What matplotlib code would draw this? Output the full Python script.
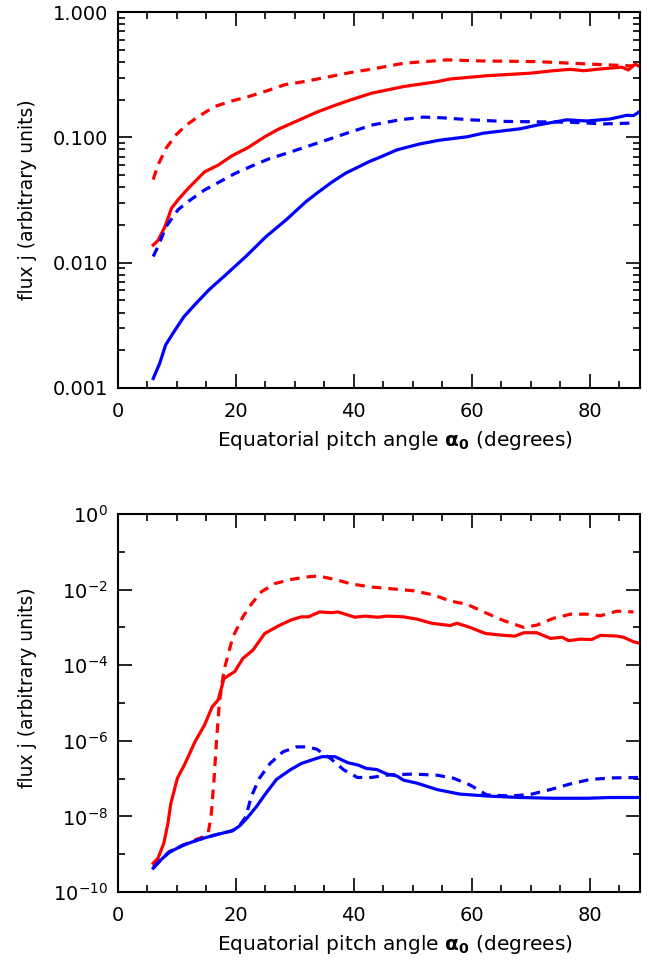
import numpy as np
import matplotlib.pyplot as plt
from matplotlib.ticker import FixedLocator, NullFormatter, FuncFormatter

# ---- top panel: flux (linear values) ----
top_red_dash_x = [6.0, 6.8, 8.2, 9.9, 11.6, 13.6, 16.4, 19.3, 22.1, 24.9, 28.3, 31.7, 35.1, 39.6, 43.0,
                  48.4, 55.8, 61.4, 71.0, 79.5, 87.4]
top_red_dash_y = [0.046, 0.060, 0.082, 0.105, 0.125, 0.146, 0.176, 0.195, 0.211, 0.232, 0.263, 0.279, 0.30,
                  0.33, 0.35, 0.39, 0.415, 0.407, 0.402, 0.385, 0.371]

top_red_x = [6.0, 6.8, 8.0, 9.1, 10.2, 11.9, 14.7, 17.0, 19.3, 22.1, 24.9, 27.2, 31.1, 33.9, 36.8, 39.6,
             43.0, 48.4, 54.1, 56.3, 62.5, 69.9, 73.8, 76.7, 78.9, 82.3, 85.4, 86.5, 87.7, 88.4]
top_red_y = [0.0138, 0.015, 0.0194, 0.0272, 0.0317, 0.039, 0.053, 0.060, 0.071, 0.083, 0.101, 0.116, 0.14,
             0.16, 0.18, 0.20, 0.225, 0.254, 0.278, 0.292, 0.31, 0.325, 0.34, 0.349, 0.34, 0.353, 0.363,
             0.345, 0.385, 0.367]

top_blue_dash_x = [6.0, 6.8, 8.2, 10.2, 11.9, 14.7, 17.0, 19.9, 22.7, 25.5, 29.5, 32.9, 36.2, 39.6, 43.3,
                   47.8, 51.8, 55.2, 59.7, 65.4, 71.0, 76.7, 82.3, 87.4]
top_blue_dash_y = [0.0112, 0.0134, 0.0194, 0.0264, 0.0307, 0.038, 0.0435, 0.0516, 0.059, 0.067, 0.077,
                   0.087, 0.098, 0.111, 0.126, 0.138, 0.145, 0.143, 0.138, 0.134, 0.133, 0.132, 0.128, 0.130]

top_blue_x = [6.0, 7.1, 8.1, 9.5, 11.2, 13.2, 15.5, 18.3, 21.7, 25.1, 28.5, 31.9, 34.1, 36.4, 38.6, 42.6,
              44.3, 47.3, 51.2, 54.6, 59.2, 62.0, 68.2, 71.0, 76.1, 79.5, 83.4, 86.3, 87.4, 88.2]
top_blue_y = [0.00119, 0.00157, 0.0022, 0.0028, 0.0037, 0.0047, 0.0061, 0.0080, 0.0112, 0.0161, 0.0219,
              0.0307, 0.0369, 0.0443, 0.0517, 0.064, 0.069, 0.0794, 0.0886, 0.095, 0.101, 0.108, 0.117,
              0.125, 0.138, 0.135, 0.140, 0.150, 0.149, 0.158]

# ---- bottom panel: log10 of flux ----
bot_red_x = [6.0, 6.8, 7.8, 8.5, 9.0, 10.1, 11.4, 13.1, 14.7, 16.0, 17.0, 18.0, 19.8, 21.2, 22.9, 24.9,
             27.2, 29.4, 31.1, 32.3, 34.2, 36.2, 37.3, 40.2, 41.9, 44.1, 45.6, 48.4, 50.7, 53.2, 56.3,
             57.5, 59.7, 62.3, 65.4, 67.3, 68.8, 71.0, 73.3, 75.3, 76.4, 78.4, 80.3, 81.8, 84.6, 85.7,
             87.4, 88.2]
bot_red_log = [-9.24, -9.11, -8.71, -8.18, -7.65, -6.99, -6.60, -6.02, -5.58, -5.10, -4.92, -4.35, -4.17,
               -3.82, -3.60, -3.16, -2.96, -2.80, -2.72, -2.72, -2.59, -2.61, -2.59, -2.73, -2.70, -2.73,
               -2.70, -2.72, -2.78, -2.89, -2.95, -2.89, -3.00, -3.16, -3.21, -3.23, -3.14, -3.14, -3.29,
               -3.26, -3.35, -3.31, -3.32, -3.21, -3.23, -3.26, -3.38, -3.41]

bot_red_dash_x = [6.0, 7.3, 8.7, 11.1, 13.1, 14.5, 15.3, 15.8, 16.3, 16.7, 17.2, 18.0, 19.5, 21.2, 22.7,
                  24.3, 26.6, 29.4, 32.3, 34.0, 36.8, 39.6, 42.9, 47.3, 50.1, 53.5, 56.3, 59.2, 62.0,
                  65.4, 68.8, 71.0, 73.8, 76.7, 79.5, 81.8, 84.6, 87.4]
bot_red_dash_log = [-9.33, -9.14, -8.93, -8.76, -8.62, -8.54, -8.45, -8.01, -7.04, -6.07, -5.01, -4.13,
                    -3.25, -2.72, -2.37, -2.06, -1.84, -1.73, -1.66, -1.64, -1.73, -1.85, -1.93, -1.99,
                    -2.03, -2.14, -2.30, -2.39, -2.59, -2.82, -3.00, -2.94, -2.76, -2.65, -2.65, -2.69,
                    -2.57, -2.59]

bot_blue_x = [6.0, 7.3, 8.7, 11.1, 13.8, 16.5, 19.4, 20.5, 21.7, 23.5, 24.9, 26.9, 29.2, 31.1, 32.8, 34.6,
              36.8, 39.0, 40.7, 42.1, 43.9, 45.6, 47.3, 48.4, 50.7, 54.1, 58.0, 62.5, 68.2, 73.8, 79.5,
              83.4, 88.2]
bot_blue_log = [-9.37, -9.15, -8.95, -8.76, -8.61, -8.49, -8.38, -8.27, -8.08, -7.74, -7.43, -7.02, -6.77,
                -6.60, -6.51, -6.42, -6.42, -6.58, -6.64, -6.73, -6.76, -6.88, -6.93, -7.04, -7.12, -7.29,
                -7.41, -7.46, -7.50, -7.52, -7.52, -7.50, -7.50]

bot_blue_dash_x = [6.0, 7.3, 8.7, 11.1, 13.8, 16.5, 19.4, 20.5, 21.7, 22.6, 24.0, 25.8, 28.0, 30.3, 32.0,
                   33.7, 36.0, 38.3, 40.6, 42.9, 46.1, 50.1, 54.1, 56.9, 59.7, 62.5, 66.5, 69.9, 73.3,
                   76.7, 80.1, 84.0, 88.2]
bot_blue_dash_log = [-9.37, -9.15, -8.95, -8.76, -8.61, -8.49, -8.38, -8.27, -8.01, -7.48, -6.99, -6.60,
                     -6.29, -6.16, -6.16, -6.22, -6.46, -6.77, -6.97, -6.97, -6.90, -6.88, -6.91, -6.99,
                     -7.17, -7.43, -7.46, -7.42, -7.29, -7.14, -7.02, -6.98, -6.97]

RED = '#ff0000'
BLUE = '#0000ff'
LW = 2.3
DASH = (0, (3, 2.2))

plt.rcParams['font.family'] = ['DejaVu Sans']
plt.rcParams['font.size'] = 14
plt.rcParams['axes.linewidth'] = 1.5

fig = plt.figure(figsize=(6.49, 9.61), dpi=100)
ax1 = fig.add_axes([0.1815, 0.5963, 0.8047, 0.3912])
ax2 = fig.add_axes([0.1815, 0.0718, 0.8047, 0.3933])

# top
ax1.plot(top_red_dash_x, top_red_dash_y, color=RED, lw=LW, ls=DASH)
ax1.plot(top_red_x, top_red_y, color=RED, lw=LW)
ax1.plot(top_blue_dash_x, top_blue_dash_y, color=BLUE, lw=LW, ls=DASH)
ax1.plot(top_blue_x, top_blue_y, color=BLUE, lw=LW)
ax1.set_yscale('log')
ax1.set_ylim(0.001, 1.0)
ax1.yaxis.set_major_locator(FixedLocator([0.001, 0.01, 0.1, 1.0]))
ax1.yaxis.set_major_formatter(FuncFormatter(lambda v, p: '%.3f' % v))
minors = [m * 10.0 ** e for e in (-3, -2, -1) for m in range(2, 10)]
ax1.yaxis.set_minor_locator(FixedLocator(minors))
ax1.yaxis.set_minor_formatter(NullFormatter())

# bottom
ax2.plot(bot_red_dash_x, 10.0 ** np.array(bot_red_dash_log), color=RED, lw=LW, ls=DASH)
ax2.plot(bot_red_x, 10.0 ** np.array(bot_red_log), color=RED, lw=LW)
ax2.plot(bot_blue_dash_x, 10.0 ** np.array(bot_blue_dash_log), color=BLUE, lw=LW, ls=DASH)
ax2.plot(bot_blue_x, 10.0 ** np.array(bot_blue_log), color=BLUE, lw=LW)
ax2.set_yscale('log')
ax2.set_ylim(1e-10, 1.0)
ax2.yaxis.set_major_locator(FixedLocator([10.0 ** e for e in range(-10, 1, 2)]))
ax2.yaxis.set_major_formatter(FuncFormatter(lambda v, p: r'$\mathregular{10^{%d}}$' % round(np.log10(v))))
ax2.yaxis.set_minor_locator(FixedLocator([10.0 ** e for e in range(-9, 0, 2)]))
ax2.yaxis.set_minor_formatter(NullFormatter())

for ax, ly in ((ax1, 0.5), (ax2, 0.54)):
    ax.set_xlim(0, 88.5)
    ax.set_xticks([0, 20, 40, 60, 80])
    ax.set_xticks(np.arange(5, 90, 5), minor=True)
    ax.tick_params(which='both', direction='in', top=True, right=True, width=1.2, labelsize=14)
    ax.tick_params(axis='y', pad=7)
    ax.tick_params(axis='x', pad=10)
    ax.tick_params(which='major', length=10)
    ax.tick_params(which='minor', length=5)
    ax.set_xlabel(r'Equatorial pitch angle $\mathbf{\alpha_0}$ (degrees)', fontsize=14.5)
    ax.xaxis.set_label_coords(0.53, -0.108)
    ax.set_ylabel('flux j (arbitrary units)', fontsize=13.5)
    ax.yaxis.set_label_coords(-0.155, ly)

fig.savefig('out.png', dpi=100)
